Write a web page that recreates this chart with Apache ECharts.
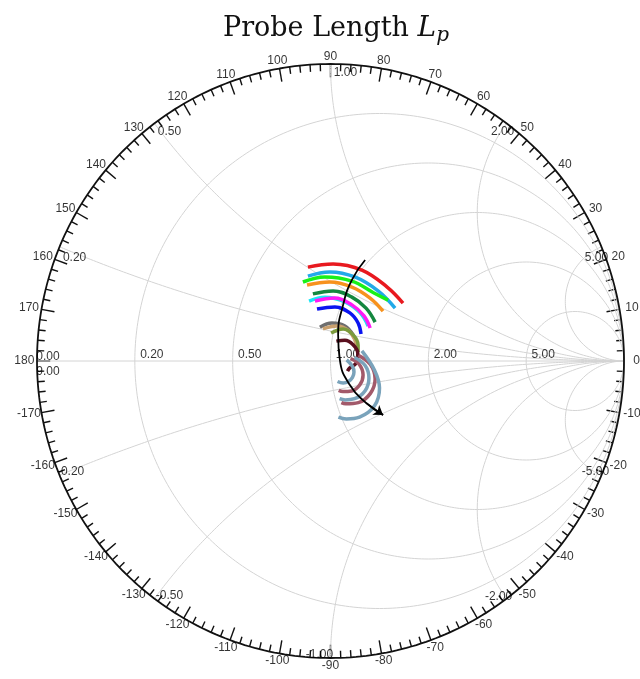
<!DOCTYPE html>
<html>
<head>
<meta charset="utf-8">
<script src="https://cdn.jsdelivr.net/npm/echarts@6/dist/echarts.min.js"></script>
<style>
  html, body { margin: 0; padding: 0; background: #fff; }
  #chart { width: 640px; height: 679px; }
</style>
</head>
<body>
<div id="chart"></div>
<script>
// Smith chart grid values
const resistances = [0.2, 0.5, 1, 2, 5];
const reactances = [0.2, 0.5, 1, 2, 5, -0.2, -0.5, -1, -2, -5];
const rLabels = ['0.20', '0.50', '1.00', '2.00', '5.00'];
const xLabels = ['0.20', '0.50', '1.00', '2.00', '5.00', '-0.20', '-0.50', '-1.00', '-2.00', '-5.00'];
const angleLabels = [];
for (let a = -170; a <= 180; a += 10) angleLabels.push(a);

// traces (reflection coefficient, re / im)
const traceNames = ['red', 'lightblue', 'green', 'orange', 'darkgreen', 'cyan', 'magenta', 'blue',
  'gray', 'tan', 'olive', 'maroon', 'steel1', 'rose1', 'steel2', 'rose2', 'steel3'];
const traceColors = ['#e8191f', '#22a9e8', '#19f019', '#f7921e', '#14873f', '#19e6f5', '#ff19f5', '#0a14f0',
  '#6e6e6e', '#c9a06e', '#7b9a3c', '#5a0f1e', '#7aa3bb', '#a2596a', '#7aa3bb', '#a2596a', '#7aa3bb'];
const traces = [
  [[-0.077, 0.316], [0.009, 0.327], [0.107, 0.306], [0.193, 0.249], [0.247, 0.195]],
  [[-0.077, 0.286], [-0.002, 0.300], [0.083, 0.283], [0.162, 0.236], [0.220, 0.178]],
  [[-0.094, 0.266], [-0.019, 0.283], [0.073, 0.269], [0.148, 0.229], [0.196, 0.205]],
  [[-0.080, 0.256], [-0.002, 0.266], [0.073, 0.249], [0.135, 0.212], [0.179, 0.168]],
  [[-0.060, 0.226], [0.009, 0.236], [0.073, 0.215], [0.121, 0.178], [0.152, 0.131]],
  [[-0.073, 0.202], [-0.019, 0.215], [0.049, 0.199], [0.101, 0.162], [0.128, 0.118]],
  [[-0.053, 0.202], [0.015, 0.212], [0.073, 0.189], [0.114, 0.152], [0.135, 0.111]],
  [[-0.046, 0.175], [0.015, 0.182], [0.066, 0.162], [0.094, 0.128], [0.104, 0.091]],
  [[-0.036, 0.114], [0.005, 0.128], [0.049, 0.118], [0.077, 0.088], [0.090, 0.054]],
  [[-0.026, 0.108], [0.022, 0.118], [0.063, 0.101], [0.083, 0.071], [0.090, 0.044]],
  [[0.002, 0.094], [0.043, 0.108], [0.077, 0.088], [0.094, 0.054], [0.094, 0.030]],
  [[0.020, 0.067], [0.049, 0.070], [0.077, 0.055], [0.093, 0.026], [0.088, -0.006], [0.065, -0.024], [0.058, -0.034]],
  [[0.055, 0.004], [0.075, -0.018], [0.080, -0.037], [0.075, -0.055], [0.061, -0.069], [0.043, -0.074], [0.024, -0.069]],
  [[0.068, 0.008], [0.097, -0.010], [0.111, -0.047], [0.100, -0.080], [0.072, -0.101], [0.042, -0.103], [0.028, -0.099]],
  [[0.082, 0.012], [0.118, -0.015], [0.131, -0.057], [0.118, -0.100], [0.082, -0.127], [0.050, -0.131], [0.031, -0.127]],
  [[0.095, 0.019], [0.136, -0.012], [0.152, -0.061], [0.136, -0.109], [0.095, -0.140], [0.052, -0.144], [0.037, -0.140]],
  [[0.107, 0.034], [0.150, -0.031], [0.167, -0.091], [0.150, -0.151], [0.099, -0.189], [0.054, -0.195], [0.027, -0.189]]
];
const arrowPath = [[0.118, 0.340], [0.073, 0.273], [0.043, 0.189], [0.026, 0.088], [0.032, 0.003],
  [0.066, -0.081], [0.121, -0.141], [0.179, -0.182]];

const chart = echarts.init(document.getElementById('chart'));
const gridColor = '#d4d4d4';
const labelColor = '#000';
const font = 'Liberation Sans, Arial, sans-serif';
const hidden = { color: 'rgba(0,0,0,0)' };

// constant-resistance circle
function rCircle(r) {
  const c = r / (1 + r), rad = 1 / (1 + r), pts = [];
  for (let i = 0; i <= 360; i++) {
    const t = i * Math.PI / 180;
    pts.push([c + rad * Math.cos(t), rad * Math.sin(t)]);
  }
  return pts;
}
// constant-reactance arc, r going from 0 to large
function xArc(x) {
  const pts = [];
  for (let i = 0; i <= 300; i++) {
    const r = Math.pow(10, -3 + i * 0.02);
    const re = r * r + x * x - 1, den = (r + 1) * (r + 1) + x * x;
    pts.push([re / den, 2 * x / den]);
  }
  pts.unshift([(x * x - 1) / (x * x + 1), 2 * x / (x * x + 1)]);
  pts.push([1, 0]);
  return pts;
}

function textLabels(data) {
  return {
    type: 'scatter', symbolSize: 1, itemStyle: hidden, clip: false, silent: true, z: 4, data: data,
    label: { show: true, position: 'inside', formatter: '{b}', color: labelColor, fontSize: 12,
      fontFamily: font, textBorderWidth: 0 }
  };
}

const series = [];
resistances.forEach(r => series.push({
  type: 'line', data: rCircle(r), showSymbol: false, silent: true, clip: false,
  lineStyle: { color: gridColor, width: 1 }
}));
reactances.forEach(x => series.push({
  type: 'line', data: xArc(x), showSymbol: false, silent: true, clip: false,
  lineStyle: { color: gridColor, width: 1 }
}));
// real axis
series.push({
  type: 'line', data: [[-1, 0], [1, 0]], showSymbol: false, silent: true,
  lineStyle: { color: gridColor, width: 1 }
});
// outer rim
series.push({
  type: 'line', data: rCircle(0), showSymbol: false, silent: true, clip: false,
  lineStyle: { color: '#111', width: 1.8 }, z: 3
});
// rim ticks every 2 degrees
const tickAngles = [];
for (let a = 0; a < 360; a += 2) tickAngles.push(a);
series.push({
  type: 'custom', clip: false, silent: true, data: tickAngles.map(a => [a]), z: 3,
  renderItem: function (params, api) {
    const a = api.value(0), t = a * Math.PI / 180;
    const len = a % 10 === 0 ? 0.045 : 0.024;
    const p1 = api.coord([Math.cos(t), Math.sin(t)]);
    const p2 = api.coord([(1 - len) * Math.cos(t), (1 - len) * Math.sin(t)]);
    return { type: 'line', shape: { x1: p1[0], y1: p1[1], x2: p2[0], y2: p2[1] },
      style: { stroke: '#111', lineWidth: 1.4 } };
  }
});
// angle labels, about 10 px outside the rim
series.push(textLabels(angleLabels.map(a => ({
  value: [1.043 * Math.cos(a * Math.PI / 180), 1.026 * Math.sin(a * Math.PI / 180)], name: String(a)
}))));
// resistance labels along the real axis
const rSeries = textLabels(resistances.map((r, i) => ({ value: [(r - 1) / (r + 1), 0], name: rLabels[i] }))
  .concat([{ value: [-1, 0], name: '0.00', label: { offset: [11, -4] } },
    { value: [-1, 0], name: '9.00', label: { offset: [11, 11] } }]));
rSeries.label.offset = [17, -6];
series.push(rSeries);
// reactance labels near the rim
const xLabelOffsets = [[15, 11], [15, 8], [15, 9], [-4, 8], [-5, 11], [11, -4], [15, -3], [-11, -3], [-8, -2], [-6, -4]];
series.push(textLabels(reactances.map((x, i) => ({
  value: [(x * x - 1) / (x * x + 1), 2 * x / (x * x + 1)], name: xLabels[i],
  label: { offset: xLabelOffsets[i] }
}))));
// measured traces
traces.forEach((d, i) => series.push({
  name: traceNames[i], type: 'line', data: d, smooth: 0.4, showSymbol: false, clip: false,
  lineStyle: { color: traceColors[i], width: 3.5 }, z: 5
}));
// black arrow showing increasing probe length
series.push({
  type: 'line', data: arrowPath, smooth: true, showSymbol: false, clip: false,
  lineStyle: { color: '#000', width: 1.8 }, z: 6
});
series.push({
  type: 'lines', coordinateSystem: 'cartesian2d', z: 6, silent: true,
  symbol: ['none', 'arrow'], symbolSize: 9,
  data: [{ coords: arrowPath.slice(-2) }],
  lineStyle: { color: '#000', width: 1.8, opacity: 1 }
});

const option = {
  animation: false,
  title: {
    text: 'Probe Length {i|L}{s|p}',
    left: 218, top: 7,
    textStyle: {
      fontFamily: 'DejaVu Serif, serif', fontSize: 27, fontWeight: 'normal', color: '#111',
      rich: {
        i: { fontFamily: 'DejaVu Serif, serif', fontStyle: 'italic', fontSize: 28, color: '#111' },
        s: { fontFamily: 'DejaVu Serif, serif', fontStyle: 'italic', fontSize: 20, color: '#111',
          verticalAlign: 'bottom', padding: [14, 0, 0, 0] }
      }
    }
  },
  grid: { left: 37, top: 64, width: 587, height: 594 },
  xAxis: { type: 'value', min: -1, max: 1, show: false },
  yAxis: { type: 'value', min: -1, max: 1, show: false },
  series: series
};

chart.setOption(option);
</script>
</body>
</html>
